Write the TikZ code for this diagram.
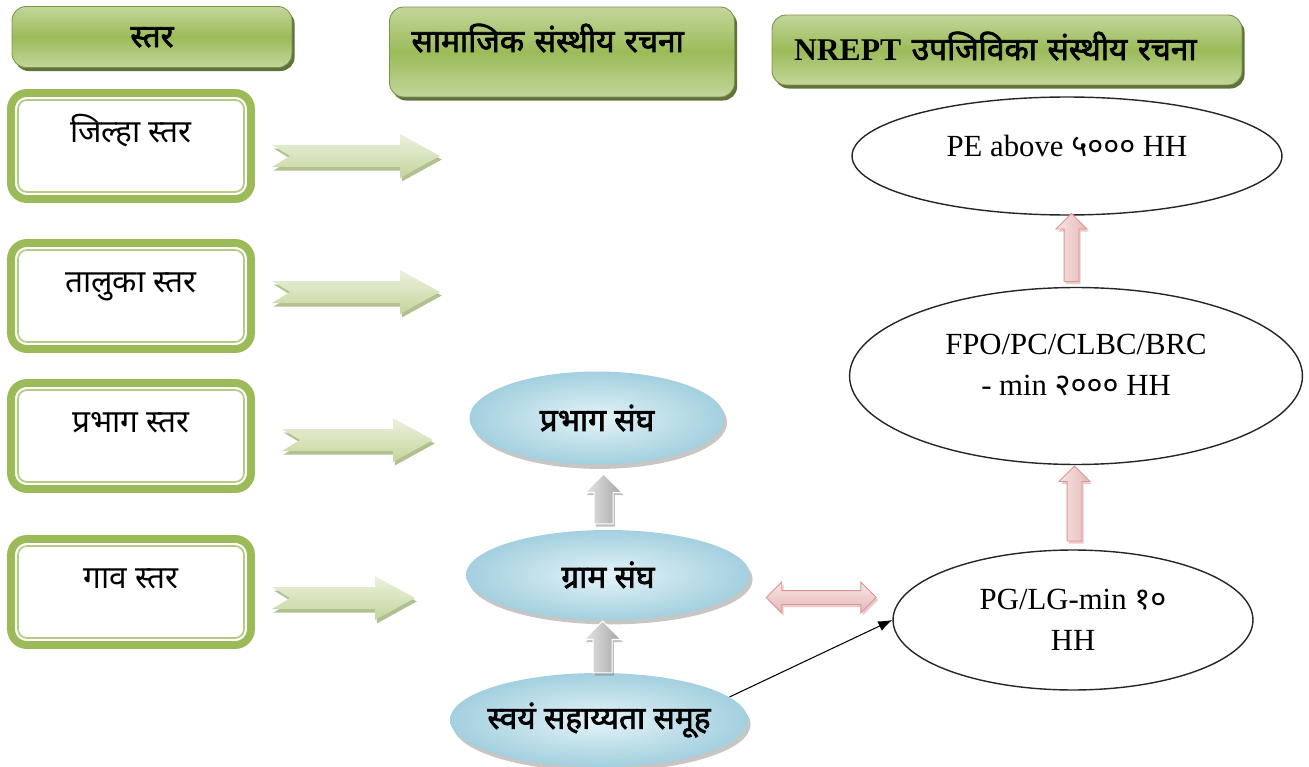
\documentclass[tikz,border=0pt]{standalone}
\usepackage{fontspec}
\setmainfont{Liberation Serif}
\newfontfamily\dev[Script=Devanagari]{Noto Sans}
\newfontfamily\devb[Script=Devanagari,FakeBold=2.2]{Noto Sans}
\usetikzlibrary{positioning,calc,shapes.geometric,shapes.arrows,shadows,arrows.meta}

\definecolor{olivegreen}{HTML}{9BBB59}
\definecolor{lightolive}{HTML}{C3D69B}
\definecolor{paleolive}{HTML}{EBF1DE}
\definecolor{darkolive}{HTML}{4F6228}
\definecolor{paleblue}{HTML}{E4F3F8}
\definecolor{midblue}{HTML}{A3D0DF}
\definecolor{palepink}{HTML}{F7E4E3}
\definecolor{midpink}{HTML}{E6B9B8}
\definecolor{edgepink}{HTML}{D99694}

\tikzset{
  header/.style={rounded corners=8pt, top color=lightolive, bottom color=lightolive, middle color=olivegreen,
    draw=olivegreen!80!black, line width=0.5pt, inner xsep=0.44cm,
    drop shadow={shadow xshift=1.5pt, shadow yshift=-2pt, fill=darkolive, opacity=0.9},
    font=\bfseries\fontsize{18}{22}\selectfont},
  levelbox/.style={draw=olivegreen, line width=4.5pt, rounded corners=9pt, fill=white, outer sep=0pt,
    minimum width=4.8cm, minimum height=2.12cm, text height=12pt, text depth=16pt,
    font=\fontsize{18}{22}\selectfont},
  innerframe/.style={draw=olivegreen!75, line width=1pt, rounded corners=5pt},
  levelarrow/.style={top color=paleolive, bottom color=lightolive,
    drop shadow={shadow xshift=1pt, shadow yshift=-2pt, fill=olivegreen!80!black, opacity=0.6}},
  sanghnode/.style={ellipse, inner xsep=-0.3cm, inner ysep=0pt, inner color=paleblue, outer color=midblue,
    drop shadow={shadow xshift=1.5pt, shadow yshift=-2.5pt, fill=gray, opacity=0.45},
    font=\fontsize{18}{22}\selectfont},
  nreptnode/.style={ellipse, draw=black!85, line width=0.8pt, fill=white, inner sep=2pt, align=center,
    font=\fontsize{17.5}{23}\selectfont},
  sangharrow/.style={single arrow, rotate=90, single arrow head extend=0.18cm,
    inner xsep=0pt, inner ysep=0.18cm, left color=gray!20, right color=gray!70, draw=white, line width=0.6pt,
    drop shadow={shadow xshift=1pt, shadow yshift=-1.5pt, fill=gray, opacity=0.5}},
  nreptarrow/.style={single arrow, rotate=90, single arrow head extend=0.16cm,
    inner xsep=0pt, inner ysep=0.14cm, left color=palepink, right color=midpink, draw=edgepink, line width=0.5pt,
    drop shadow={shadow xshift=1pt, shadow yshift=-1.5pt, fill=edgepink, opacity=0.5}},
  linkarrow/.style={double arrow, double arrow head extend=0.17cm,
    inner xsep=0pt, inner ysep=0.13cm, top color=palepink, bottom color=midpink, draw=edgepink, line width=0.5pt,
    drop shadow={shadow xshift=1pt, shadow yshift=-1.5pt, fill=edgepink, opacity=0.5}}
}

% notched block arrow: tail x, tip x, centre y
\newcommand\levelarr[3]{%
  \path[levelarrow] (#1,#3-11) -- (#2-40,#3-11) -- (#2-40,#3-22) -- (#2,#3) -- (#2-40,#3+22)
    -- (#2-40,#3+11) -- (#1,#3+11) -- (#1+18,#3) -- cycle;}

\begin{document}
\begin{tikzpicture}[x=0.02cm,y=-0.02cm]
\useasboundingbox (0,0) rectangle (1309,767);

% column headers
\node[header, minimum width=5.6cm, minimum height=1.22cm, text height=14pt, text depth=2.6pt] (hstar) at (152,37) {\devb स्तर};
\node[header, minimum width=6.9cm, minimum height=1.8cm, text width=6.02cm, align=left, text height=10pt, text depth=10pt] (hsamajik) at (562,52) {\devb सामाजिक संस्थीय रचना};
\node[header, minimum width=9.4cm, minimum height=1.4cm, text width=8.52cm, align=left, text height=14pt, text depth=2.6pt] (hnrept) at (1007,50) {NREPT {\devb उपजिविका संस्थीय रचना}};

% levels
\node[levelbox] (jilha) at (131,146) {\dev जिल्हा स्तर};
\node[levelbox] (taluka) at (131,296) {\dev तालुका स्तर};
\node[levelbox] (prabhagstar) at (131,436) {\dev प्रभाग स्तर};
\node[levelbox] (gav) at (131,592) {\dev गाव स्तर};
\foreach \b in {jilha,taluka,prabhagstar,gav}
  \draw[innerframe] ([shift={(4pt,-4pt)}]\b.north west) rectangle ([shift={(-4pt,4pt)}]\b.south east);

\levelarr{272}{440}{156}
\levelarr{272}{440}{292}
\levelarr{282}{433}{440}
\levelarr{272}{415}{598}

% social structure
\node[sanghnode, minimum width=5.1cm, minimum height=1.86cm] (prabhag) at (597,418) {\devb प्रभाग संघ};
\node[sanghnode, minimum width=5.68cm, minimum height=1.8cm] (gram) at (608,575) {\devb ग्राम संघ};
\node[sanghnode, minimum width=5.96cm, minimum height=1.88cm] (swayam) at (599,720) {\devb स्वयं सहाय्यता समूह};
\node[sangharrow, minimum height=1cm] (up1) at ($(prabhag.south)!0.6!(gram.north)$) {};
\node[sangharrow, minimum height=1.04cm] (up2) at ($(gram.south)!0.6!(swayam.north)$) {};

% NREPT structure
\node[nreptnode, minimum width=8.6cm, minimum height=2.36cm, text height=10pt, text depth=10pt] (pe) at (1067,156) {PE above {\dev ५०००} HH};
\node[nreptnode, minimum width=9.06cm, minimum height=3.54cm] (fpo) at (1076,376) {FPO/PC/CLBC/BRC\\- min {\dev २०००} HH\rule[-12.5pt]{0pt}{0pt}};
\node[nreptnode, minimum width=7.2cm, minimum height=2.8cm] (pg) at (1073,620) {PG/LG-min {\dev १०}\\HH};
\node[nreptarrow, minimum height=1.36cm] (up3) at ($(pe.south)!0.5!(fpo.north)$) {};
\node[nreptarrow, minimum height=1.5cm] (up4) at ($(fpo.south)!0.5!(pg.north)$) {};
\node[linkarrow, minimum height=2.2cm] (link) at ($(gram.east)!0.5!(pg.west)$) {};

\draw[->,>={Latex[length=8pt,width=6pt]},semithick] (swayam.10) -- (pg.west);
\end{tikzpicture}
\end{document}
